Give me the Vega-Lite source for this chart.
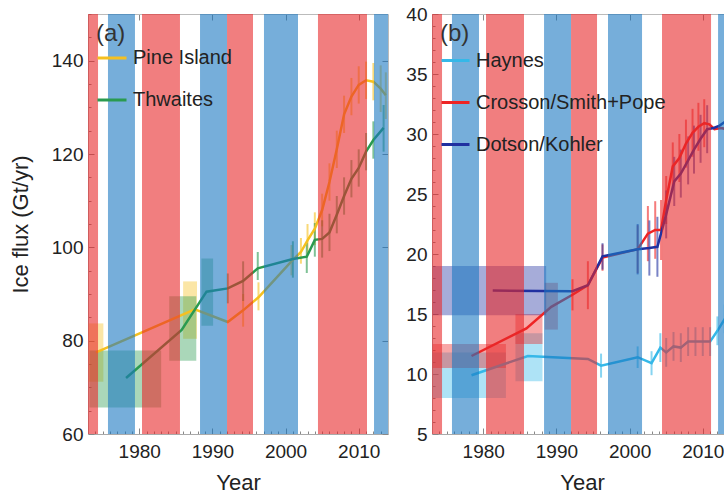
{
  "$schema": "https://vega.github.io/schema/vega-lite/v6.json",
  "background": "white",
  "padding": {"left": 9, "top": 5, "right": 0, "bottom": 0},
  "spacing": 16,
  "config": {
    "font": "Liberation Sans",
    "view": {"stroke": null},
    "axis": {
      "labelFont": "Liberation Sans", "labelFontSize": 19, "labelColor": "#222",
      "titleFont": "Liberation Sans", "titleFontSize": 22, "titleFontWeight": "normal", "titleColor": "#222",
      "domainColor": "#aaa", "tickColor": "#888", "grid": false, "zindex": 1
    }
  },
  "datasets": {
    "bands": [
      {"start": 1972.0, "end": 1974.37, "phase": "warm"},
      {"start": 1975.73, "end": 1979.42, "phase": "cold"},
      {"start": 1980.38, "end": 1985.57, "phase": "warm"},
      {"start": 1988.31, "end": 1992.0, "phase": "cold"},
      {"start": 1992.0, "end": 1995.55, "phase": "warm"},
      {"start": 1997.05, "end": 2001.7, "phase": "cold"},
      {"start": 2004.43, "end": 2011.13, "phase": "warm"},
      {"start": 2012.09, "end": 2016.0, "phase": "cold"}
    ],
    "a": [
      {"s": "Pine Island", "year": 1974.1, "flux": 77.5, "lo": 71.2, "hi": 83.7, "y0": 1973.1, "y1": 1975.1},
      {"s": "Pine Island", "year": 1987.6, "flux": 86.7, "lo": 80.4, "hi": 92.7, "y0": 1986.0, "y1": 1987.9},
      {"s": "Pine Island", "year": 1992.1, "flux": 84.0},
      {"s": "Pine Island", "year": 1994.2, "flux": 86.5, "lo": 83.0, "hi": 90.0},
      {"s": "Pine Island", "year": 1996.3, "flux": 89.3, "lo": 86.5, "hi": 92.5},
      {"s": "Pine Island", "year": 2000.8, "flux": 97.0, "lo": 94.0, "hi": 100.5},
      {"s": "Pine Island", "year": 2002.1, "flux": 99.0, "lo": 96.5, "hi": 102.0},
      {"s": "Pine Island", "year": 2003.0, "flux": 101.5, "lo": 98.5, "hi": 105.0},
      {"s": "Pine Island", "year": 2004.0, "flux": 104.0, "lo": 100.5, "hi": 107.5},
      {"s": "Pine Island", "year": 2005.0, "flux": 108.0, "lo": 104.5, "hi": 111.5},
      {"s": "Pine Island", "year": 2006.0, "flux": 114.0, "lo": 110.0, "hi": 118.0},
      {"s": "Pine Island", "year": 2007.0, "flux": 121.0, "lo": 117.0, "hi": 125.0},
      {"s": "Pine Island", "year": 2008.0, "flux": 128.5, "lo": 124.5, "hi": 132.5},
      {"s": "Pine Island", "year": 2009.0, "flux": 132.3, "lo": 128.3, "hi": 136.3},
      {"s": "Pine Island", "year": 2010.0, "flux": 134.8, "lo": 130.8, "hi": 138.8},
      {"s": "Pine Island", "year": 2011.0, "flux": 135.8, "lo": 131.8, "hi": 139.8},
      {"s": "Pine Island", "year": 2012.0, "flux": 135.5, "lo": 131.5, "hi": 139.5},
      {"s": "Pine Island", "year": 2013.0, "flux": 134.0, "lo": 129.0, "hi": 139.0},
      {"s": "Pine Island", "year": 2013.7, "flux": 132.6, "lo": 127.5, "hi": 137.5},
      {"s": "Thwaites", "year": 1978.2, "flux": 72.0, "lo": 65.7, "hi": 77.9, "y0": 1973.2, "y1": 1983.0},
      {"s": "Thwaites", "year": 1985.8, "flux": 82.3, "lo": 75.7, "hi": 89.5, "y0": 1984.1, "y1": 1987.8},
      {"s": "Thwaites", "year": 1989.2, "flux": 90.5, "lo": 83.2, "hi": 97.6, "y0": 1988.5, "y1": 1990.1},
      {"s": "Thwaites", "year": 1992.1, "flux": 91.2, "lo": 88.0, "hi": 94.4},
      {"s": "Thwaites", "year": 1994.2, "flux": 92.8, "lo": 88.5, "hi": 97.0},
      {"s": "Thwaites", "year": 1996.2, "flux": 95.5, "lo": 93.0, "hi": 99.0},
      {"s": "Thwaites", "year": 2001.0, "flux": 97.5, "lo": 93.5, "hi": 101.3},
      {"s": "Thwaites", "year": 2002.9, "flux": 98.0, "lo": 94.5, "hi": 101.0},
      {"s": "Thwaites", "year": 2004.0, "flux": 101.6, "lo": 98.0, "hi": 105.2},
      {"s": "Thwaites", "year": 2005.0, "flux": 101.8, "lo": 97.8, "hi": 105.8},
      {"s": "Thwaites", "year": 2006.0, "flux": 103.2, "lo": 99.2, "hi": 107.2},
      {"s": "Thwaites", "year": 2007.0, "flux": 107.0, "lo": 103.0, "hi": 111.0},
      {"s": "Thwaites", "year": 2008.0, "flux": 111.0, "lo": 107.0, "hi": 115.0},
      {"s": "Thwaites", "year": 2009.0, "flux": 114.7, "lo": 110.7, "hi": 118.7},
      {"s": "Thwaites", "year": 2010.0, "flux": 117.0, "lo": 113.0, "hi": 121.0},
      {"s": "Thwaites", "year": 2011.0, "flux": 120.5, "lo": 116.5, "hi": 124.5},
      {"s": "Thwaites", "year": 2012.0, "flux": 123.0, "lo": 119.0, "hi": 127.0},
      {"s": "Thwaites", "year": 2013.4, "flux": 125.6, "lo": 120.5, "hi": 130.5}
    ],
    "b": [
      {"s": "Haynes", "year": 1978.4, "flux": 9.9, "lo": 8.0, "hi": 11.8, "y0": 1973.1, "y1": 1983.1},
      {"s": "Haynes", "year": 1986.1, "flux": 11.5, "lo": 9.4, "hi": 13.4, "y0": 1984.4, "y1": 1988.1},
      {"s": "Haynes", "year": 1994.3, "flux": 11.25},
      {"s": "Haynes", "year": 1996.1, "flux": 10.7, "lo": 9.7, "hi": 11.7},
      {"s": "Haynes", "year": 2001.1, "flux": 11.4, "lo": 10.5, "hi": 12.3},
      {"s": "Haynes", "year": 2003.0, "flux": 10.9, "lo": 9.9, "hi": 11.9},
      {"s": "Haynes", "year": 2004.2, "flux": 12.2, "lo": 11.0, "hi": 13.4},
      {"s": "Haynes", "year": 2005.0, "flux": 11.8, "lo": 10.6, "hi": 13.0},
      {"s": "Haynes", "year": 2006.0, "flux": 12.3, "lo": 11.1, "hi": 13.5},
      {"s": "Haynes", "year": 2007.0, "flux": 12.2, "lo": 11.0, "hi": 13.4},
      {"s": "Haynes", "year": 2008.0, "flux": 12.7, "lo": 11.5, "hi": 13.9},
      {"s": "Haynes", "year": 2009.0, "flux": 12.7, "lo": 11.5, "hi": 13.9},
      {"s": "Haynes", "year": 2010.0, "flux": 12.7, "lo": 11.5, "hi": 13.9},
      {"s": "Haynes", "year": 2011.0, "flux": 12.7, "lo": 11.5, "hi": 13.9},
      {"s": "Haynes", "year": 2012.0, "flux": 13.6, "lo": 12.4, "hi": 14.8},
      {"s": "Haynes", "year": 2013.0, "flux": 14.6, "lo": 13.4, "hi": 15.8},
      {"s": "Crosson/Smith+Pope", "year": 1978.4, "flux": 11.5, "lo": 10.5, "hi": 12.5, "y0": 1973.1, "y1": 1983.1},
      {"s": "Crosson/Smith+Pope", "year": 1985.9, "flux": 13.8, "lo": 12.5, "hi": 15.0, "y0": 1984.4, "y1": 1988.1},
      {"s": "Crosson/Smith+Pope", "year": 1989.3, "flux": 15.6, "lo": 13.7, "hi": 17.6, "y0": 1988.4, "y1": 1990.2},
      {"s": "Crosson/Smith+Pope", "year": 1992.2, "flux": 16.6, "lo": 15.3, "hi": 17.9},
      {"s": "Crosson/Smith+Pope", "year": 1994.3, "flux": 17.4, "lo": 15.4, "hi": 19.4},
      {"s": "Crosson/Smith+Pope", "year": 1996.3, "flux": 19.7, "lo": 18.6, "hi": 20.8},
      {"s": "Crosson/Smith+Pope", "year": 2001.1, "flux": 20.4, "lo": 18.4, "hi": 22.4},
      {"s": "Crosson/Smith+Pope", "year": 2002.5, "flux": 21.7, "lo": 19.4, "hi": 24.0},
      {"s": "Crosson/Smith+Pope", "year": 2003.5, "flux": 22.0, "lo": 19.6, "hi": 24.4},
      {"s": "Crosson/Smith+Pope", "year": 2004.3, "flux": 22.0, "lo": 19.5, "hi": 24.5},
      {"s": "Crosson/Smith+Pope", "year": 2005.0, "flux": 24.5, "lo": 22.5, "hi": 26.5},
      {"s": "Crosson/Smith+Pope", "year": 2005.9, "flux": 27.3, "lo": 25.3, "hi": 29.3},
      {"s": "Crosson/Smith+Pope", "year": 2006.8, "flux": 28.0, "lo": 26.0, "hi": 30.0},
      {"s": "Crosson/Smith+Pope", "year": 2007.7, "flux": 29.2, "lo": 27.2, "hi": 31.2},
      {"s": "Crosson/Smith+Pope", "year": 2008.6, "flux": 30.1, "lo": 28.1, "hi": 32.1},
      {"s": "Crosson/Smith+Pope", "year": 2009.4, "flux": 30.6, "lo": 28.6, "hi": 32.6},
      {"s": "Crosson/Smith+Pope", "year": 2010.2, "flux": 30.9, "lo": 28.9, "hi": 32.9},
      {"s": "Crosson/Smith+Pope", "year": 2010.9, "flux": 30.8},
      {"s": "Crosson/Smith+Pope", "year": 2011.6, "flux": 30.4},
      {"s": "Crosson/Smith+Pope", "year": 2012.5, "flux": 30.5},
      {"s": "Crosson/Smith+Pope", "year": 2013.3, "flux": 30.4},
      {"s": "Dotson/Kohler", "year": 1981.3, "flux": 16.95, "lo": 14.9, "hi": 19.0, "y0": 1973.1, "y1": 1988.6},
      {"s": "Dotson/Kohler", "year": 1992.2, "flux": 16.9},
      {"s": "Dotson/Kohler", "year": 1994.3, "flux": 17.4},
      {"s": "Dotson/Kohler", "year": 1996.3, "flux": 19.8, "lo": 18.7, "hi": 20.9},
      {"s": "Dotson/Kohler", "year": 2001.1, "flux": 20.4, "lo": 18.3, "hi": 22.5},
      {"s": "Dotson/Kohler", "year": 2002.7, "flux": 20.5, "lo": 18.2, "hi": 22.8},
      {"s": "Dotson/Kohler", "year": 2003.8, "flux": 20.6, "lo": 18.1, "hi": 23.1},
      {"s": "Dotson/Kohler", "year": 2005.0, "flux": 23.3, "lo": 21.3, "hi": 25.3},
      {"s": "Dotson/Kohler", "year": 2006.1, "flux": 26.05, "lo": 24.0, "hi": 28.1},
      {"s": "Dotson/Kohler", "year": 2007.0, "flux": 26.7, "lo": 24.7, "hi": 28.7},
      {"s": "Dotson/Kohler", "year": 2008.0, "flux": 27.8, "lo": 25.8, "hi": 29.8},
      {"s": "Dotson/Kohler", "year": 2008.8, "flux": 28.7, "lo": 26.7, "hi": 30.7},
      {"s": "Dotson/Kohler", "year": 2009.7, "flux": 29.6, "lo": 27.6, "hi": 31.6},
      {"s": "Dotson/Kohler", "year": 2010.6, "flux": 30.4, "lo": 28.4, "hi": 32.4},
      {"s": "Dotson/Kohler", "year": 2011.5, "flux": 30.5},
      {"s": "Dotson/Kohler", "year": 2012.3, "flux": 30.7},
      {"s": "Dotson/Kohler", "year": 2013.1, "flux": 31.05}
    ]
  },
  "resolve": {"scale": {"x": "independent", "y": "independent", "color": "independent", "fill": "independent", "stroke": "independent"}, "legend": {"color": "independent"}},
  "hconcat": [
    {
      "width": 300, "height": 420,
      "data": {"name": "a"},
      "resolve": {"axis": {"x": "independent", "y": "independent"}, "scale": {"fill": "independent"}},
      "layer": [
        {
          "transform": [{"filter": "datum.y0 != null"}],
          "mark": {"type": "rect", "fillOpacity": 0.4, "clip": true},
          "encoding": {
            "x": {"field": "y0", "type": "quantitative", "scale": {"domain": [1973, 2014], "nice": false, "zero": false}, "axis": {"orient": "top", "values": [1980, 1990, 2000, 2010], "labels": false, "title": null, "tickSize": -6, "domainColor": "#bbb"}},
            "x2": {"field": "y1"},
            "y": {"field": "lo", "type": "quantitative", "scale": {"domain": [60, 150], "nice": false, "zero": false}, "axis": {"orient": "right", "values": [60, 80, 100, 120, 140], "labels": false, "title": null, "tickSize": -6, "domainColor": "#bbb"}},
            "y2": {"field": "hi"},
            "fill": {"field": "s", "type": "nominal", "scale": {"range": ["#f5c020", "#2a9a50"]}, "legend": null}
          }
        },
        {
          "transform": [{"filter": "datum.y0 == null && datum.lo != null"}],
          "mark": {"type": "rule", "strokeWidth": 2, "opacity": 0.6, "clip": true},
          "encoding": {
            "x": {"field": "year", "type": "quantitative", "scale": {"domain": [1973, 2014], "nice": false, "zero": false}, "axis": {"orient": "bottom", "values": [1974,1975,1976,1977,1978,1979,1981,1982,1983,1984,1985,1986,1987,1988,1989,1991,1992,1993,1994,1995,1996,1997,1998,1999,2001,2002,2003,2004,2005,2006,2007,2008,2009,2011,2012,2013], "labels": false, "title": null, "domain": false, "tickSize": -3}},
            "y": {"field": "lo", "type": "quantitative", "scale": {"domain": [60, 150], "nice": false, "zero": false}, "axis": {"orient": "left", "values": [65,70,75,85,90,95,105,110,115,125,130,135,145,150], "labels": false, "title": null, "domain": false, "tickSize": -3}},
            "y2": {"field": "hi"},
            "stroke": {"field": "s", "type": "nominal", "scale": {"range": ["#f5c020", "#2a9a50"]}, "legend": null}
          }
        },
        {
          "mark": {"type": "line", "strokeWidth": 2.5, "clip": true},
          "encoding": {
            "x": {"field": "year", "type": "quantitative", "scale": {"domain": [1973, 2014], "nice": false, "zero": false}, "axis": {"orient": "bottom", "values": [1980, 1990, 2000, 2010], "format": "d", "title": "Year", "tickSize": -6, "labelPadding": 14, "titlePadding": 11}},
            "y": {"field": "flux", "type": "quantitative", "scale": {"domain": [60, 150], "nice": false, "zero": false}, "axis": {"orient": "left", "values": [60, 80, 100, 120, 140], "title": "Ice flux (Gt/yr)", "tickSize": -6, "labelPadding": 11, "titlePadding": 19}},
            "color": {"field": "s", "type": "nominal", "scale": {"domain": ["Pine Island", "Thwaites"], "range": ["#f5c020", "#2a9a50"]},
              "legend": {"title": "(a)", "orient": "top-left", "offset": 8, "padding": 0, "titleFontSize": 24, "titleFontWeight": "normal", "titleColor": "#333", "titlePadding": -4, "labelFontSize": 20, "labelColor": "#222", "labelOffset": 5, "labelLimit": 0, "symbolType": "stroke", "symbolSize": 841, "symbolStrokeWidth": 3, "rowPadding": 16}},
            "order": {"field": "year"}
          }
        },
        {
          "data": {"name": "bands"},
          "mark": {"type": "rect", "fillOpacity": 0.6, "clip": true},
          "encoding": {
            "x": {"field": "start", "type": "quantitative", "scale": {"domain": [1973, 2014], "nice": false, "zero": false}, "axis": null},
            "x2": {"field": "end"},
            "fill": {"field": "phase", "type": "nominal", "scale": {"domain": ["warm", "cold"], "range": ["#e8282a", "#1a78c2"]}, "legend": null}
          }
        }
      ]
    },
    {
      "width": 292, "height": 420,
      "data": {"name": "b"},
      "resolve": {"axis": {"x": "independent", "y": "independent"}, "scale": {"fill": "independent"}},
      "layer": [
        {
          "transform": [{"filter": "datum.y0 != null"}],
          "mark": {"type": "rect", "fillOpacity": 0.4, "clip": true},
          "encoding": {
            "x": {"field": "y0", "type": "quantitative", "scale": {"domain": [1973, 2012.9], "nice": false, "zero": false}, "axis": {"orient": "top", "values": [1980, 1990, 2000, 2010], "labels": false, "title": null, "tickSize": -6, "domainColor": "#bbb"}},
            "x2": {"field": "y1"},
            "y": {"field": "lo", "type": "quantitative", "scale": {"domain": [5, 40], "nice": false, "zero": false}, "axis": null},
            "y2": {"field": "hi"},
            "fill": {"field": "s", "type": "nominal", "scale": {"range": ["#ee2424", "#2030a0", "#35b8e8"]}, "legend": null}
          }
        },
        {
          "transform": [{"filter": "datum.y0 == null && datum.lo != null"}],
          "mark": {"type": "rule", "strokeWidth": 2, "opacity": 0.6, "clip": true},
          "encoding": {
            "x": {"field": "year", "type": "quantitative", "scale": {"domain": [1973, 2012.9], "nice": false, "zero": false}, "axis": {"orient": "bottom", "values": [1974,1975,1976,1977,1978,1979,1981,1982,1983,1984,1985,1986,1987,1988,1989,1991,1992,1993,1994,1995,1996,1997,1998,1999,2001,2002,2003,2004,2005,2006,2007,2008,2009,2011,2012], "labels": false, "title": null, "domain": false, "tickSize": -3}},
            "y": {"field": "lo", "type": "quantitative", "scale": {"domain": [5, 40], "nice": false, "zero": false}, "axis": {"orient": "left", "values": [6,7,8,9,11,12,13,14,16,17,18,19,21,22,23,24,26,27,28,29,31,32,33,34,36,37,38,39], "labels": false, "title": null, "domain": false, "tickSize": -3}},
            "y2": {"field": "hi"},
            "stroke": {"field": "s", "type": "nominal", "scale": {"range": ["#ee2424", "#2030a0", "#35b8e8"]}, "legend": null}
          }
        },
        {
          "mark": {"type": "line", "strokeWidth": 2.5, "clip": true},
          "encoding": {
            "x": {"field": "year", "type": "quantitative", "scale": {"domain": [1973, 2012.9], "nice": false, "zero": false}, "axis": {"orient": "bottom", "values": [1980, 1990, 2000, 2010], "format": "d", "title": "Year", "tickSize": -6, "labelPadding": 14, "titlePadding": 11, "titleX": 150}},
            "y": {"field": "flux", "type": "quantitative", "scale": {"domain": [5, 40], "nice": false, "zero": false}, "axis": {"orient": "left", "values": [5, 10, 15, 20, 25, 30, 35, 40], "title": null, "tickSize": -6, "labelPadding": 11}},
            "color": {"field": "s", "type": "nominal", "scale": {"domain": ["Haynes", "Crosson/Smith+Pope", "Dotson/Kohler"], "range": ["#35b8e8", "#ee2424", "#2030a0"]},
              "legend": {"title": "(b)", "orient": "top-left", "offset": 8, "padding": 0, "titleFontSize": 24, "titleFontWeight": "normal", "titleColor": "#333", "titlePadding": -1, "labelFontSize": 20, "labelColor": "#222", "labelOffset": 5, "labelLimit": 0, "symbolType": "stroke", "symbolSize": 784, "symbolStrokeWidth": 3, "rowPadding": 16}},
            "order": {"field": "year"}
          }
        },
        {
          "data": {"name": "bands"},
          "mark": {"type": "rect", "fillOpacity": 0.6, "clip": true},
          "encoding": {
            "x": {"field": "start", "type": "quantitative", "scale": {"domain": [1973, 2012.9], "nice": false, "zero": false}, "axis": null},
            "x2": {"field": "end"},
            "fill": {"field": "phase", "type": "nominal", "scale": {"domain": ["warm", "cold"], "range": ["#e8282a", "#1a78c2"]}, "legend": null}
          }
        }
      ]
    }
  ]
}
